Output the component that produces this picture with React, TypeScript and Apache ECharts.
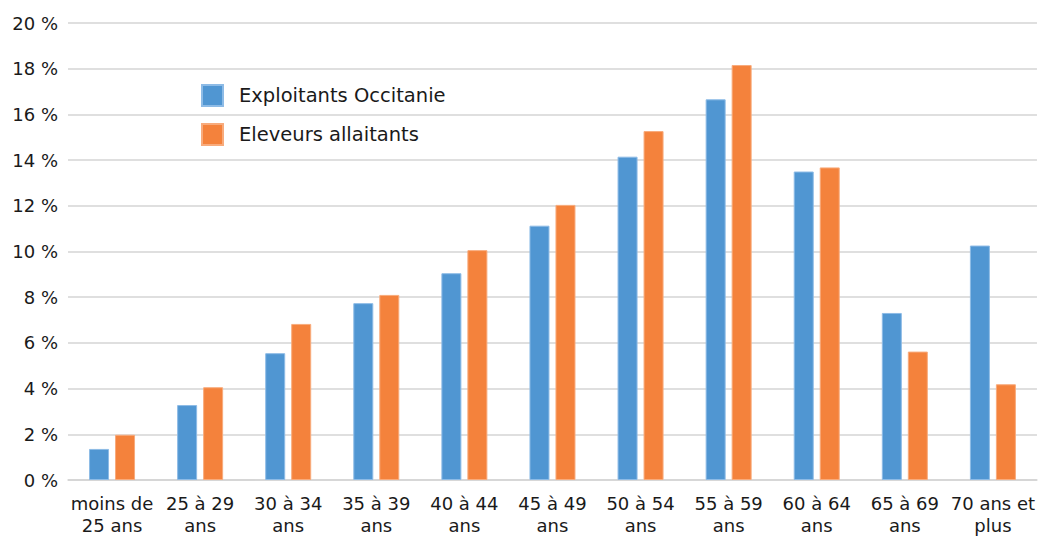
import React, { useEffect, useRef } from "react";
import * as echarts from "echarts";

const categories = [
  "moins de\n25 ans",
  "25 à 29\nans",
  "30 à 34\nans",
  "35 à 39\nans",
  "40 à 44\nans",
  "45 à 49\nans",
  "50 à 54\nans",
  "55 à 59\nans",
  "60 à 64\nans",
  "65 à 69\nans",
  "70 ans et\nplus",
];

const exploitantsOccitanie = [1.36, 3.28, 5.55, 7.74, 9.05, 11.13, 14.15, 16.66, 13.5, 7.31, 10.26];
const eleveursAllaitants = [1.98, 4.06, 6.83, 8.1, 10.06, 12.04, 15.27, 18.16, 13.68, 5.62, 4.19];

const seriesNames = ["Exploitants Occitanie", "Eleveurs allaitants"];
const FONT = "'DejaVu Sans', sans-serif";
const TEXT = "#1a1a1a";

export default function App() {
  const ref = useRef<HTMLDivElement>(null);

  useEffect(() => {
    if (!ref.current) return;
    const chart = echarts.init(ref.current, undefined, { renderer: "svg" });
    chart.setOption({
      animation: false,
      textStyle: { fontFamily: FONT },
      grid: { left: 68, right: 0, top: 23, bottom: 56, containLabel: false },
      legend: {
        orient: "vertical",
        left: 201,
        top: 84,
        padding: 0,
        itemWidth: 21,
        itemHeight: 21,
        itemGap: 16,
        icon: "rect",
        textStyle: {
          fontFamily: FONT,
          fontSize: 19.5,
          lineHeight: 21,
          color: TEXT,
          padding: [0, 0, 0, 11],
        },
        data: seriesNames,
      },
      xAxis: {
        type: "category",
        data: categories,
        axisLine: { lineStyle: { color: "#d4d4d4", width: 1.5 } },
        axisTick: { show: false },
        axisLabel: {
          interval: 0,
          margin: 12,
          fontFamily: FONT,
          fontSize: 18,
          lineHeight: 22,
          color: TEXT,
        },
      },
      yAxis: {
        type: "value",
        min: 0,
        max: 20,
        interval: 2,
        axisLine: { show: false },
        axisTick: { show: false },
        splitLine: { lineStyle: { color: "#d4d4d4", width: 1.5 } },
        axisLabel: {
          formatter: "{value} %",
          margin: 10,
          fontFamily: FONT,
          fontSize: 18,
          color: TEXT,
        },
      },
      series: [
        {
          name: seriesNames[0],
          type: "bar",
          data: exploitantsOccitanie,
          barWidth: 20,
          barGap: "30%",
          itemStyle: { color: "#5096D2", borderColor: "#8dbbe6", borderWidth: 1 },
        },
        {
          name: seriesNames[1],
          type: "bar",
          data: eleveursAllaitants,
          barWidth: 20,
          barGap: "30%",
          itemStyle: { color: "#F4823C", borderColor: "#f8ab7c", borderWidth: 1 },
        },
      ],
    });
    return () => chart.dispose();
  }, []);

  return <div ref={ref} style={{ width: 1038, height: 536, position: "absolute", left: 0, top: 0 }} />;
}
